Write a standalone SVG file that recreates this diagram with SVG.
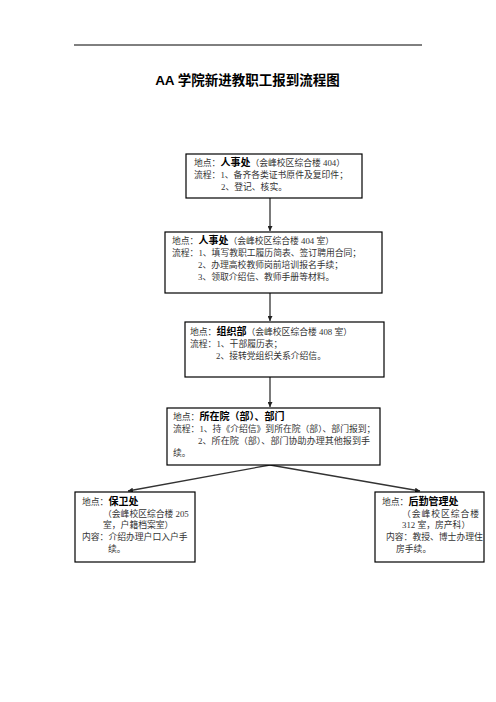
<svg xmlns="http://www.w3.org/2000/svg" width="496" height="702" viewBox="0 0 496 702">
<defs>
<style>
.box{fill:#fff;stroke:#000;stroke-width:1.2}
.t{font-family:"Liberation Serif","Noto Sans CJK SC",serif;font-size:8.8px;fill:#333}
.b{font-family:"Noto Sans CJK SC",sans-serif;font-size:10px;font-weight:bold;fill:#000}
.title{font-family:"Liberation Sans","Noto Sans CJK SC",sans-serif;font-size:13.5px;font-weight:bold;fill:#000}
.c{stroke:#333;stroke-width:1.3;fill:none}
</style>
<marker id="ah" viewBox="0 0 8 8" refX="8" refY="4" markerWidth="5" markerHeight="5" orient="auto" markerUnits="userSpaceOnUse">
<path d="M0,0 L8,4 L0,8 z" fill="#222"/>
</marker>
</defs>
<rect width="496" height="702" fill="#fff"/>
<line x1="74" y1="45" x2="422" y2="45" stroke="#000" stroke-width="1"/>
<text class="title" x="247.5" y="85" text-anchor="middle">AA 学院新进教职工报到流程图</text>

<g id="connectors">
<line class="c" x1="270" y1="198" x2="270" y2="231" marker-end="url(#ah)"/>
<line class="c" x1="270" y1="293" x2="270" y2="321" marker-end="url(#ah)"/>
<line class="c" x1="270" y1="377" x2="270" y2="407" marker-end="url(#ah)"/>
<line class="c" x1="270" y1="465" x2="128" y2="491" marker-end="url(#ah)"/>
<line class="c" x1="270" y1="465" x2="420" y2="491" marker-end="url(#ah)"/>
</g>

<g id="node1">
<rect class="box" x="186" y="154" width="176" height="44"/>
<text class="t" x="194" y="166">地点：<tspan class="b">人事处</tspan>（会峰校区综合楼 404）</text>
<text class="t" x="194" y="178">流程：1、备齐各类证书原件及复印件；</text>
<text class="t" x="221" y="190">2、登记、核实。</text>
</g>

<g id="node2">
<rect class="box" x="165" y="232" width="217" height="61"/>
<text class="t" x="172" y="244">地点：<tspan class="b">人事处</tspan>（会峰校区综合楼 404 室）</text>
<text class="t" x="172" y="256">流程：1、填写教职工履历简表、签订聘用合同；</text>
<text class="t" x="198" y="268">2、办理高校教师岗前培训报名手续；</text>
<text class="t" x="198" y="280">3、领取介绍信、教师手册等材料。</text>
</g>

<g id="node3">
<rect class="box" x="185" y="322" width="199" height="55"/>
<text class="t" x="190" y="335">地点：<tspan class="b">组织部</tspan>（会峰校区综合楼 408 室）</text>
<text class="t" x="190" y="347">流程：1、干部履历表；</text>
<text class="t" x="216" y="359">2、接转党组织关系介绍信。</text>
</g>

<g id="node4">
<rect class="box" x="167" y="408" width="213" height="57"/>
<text class="t" x="173" y="420">地点：<tspan class="b">所在院（部）、部门</tspan></text>
<text class="t" x="173" y="432">流程：1、持《介绍信》到所在院（部）、部门报到；</text>
<text class="t" x="198" y="444" textLength="172" lengthAdjust="spacingAndGlyphs">2、所在院（部）、部门协助办理其他报到手</text>
<text class="t" x="173" y="456">续。</text>
</g>

<g id="node5">
<rect class="box" x="75" y="492" width="120" height="70"/>
<text class="t" x="82" y="505">地点：<tspan class="b">保卫处</tspan></text>
<text class="t" x="103" y="517">（会峰校区综合楼  205</text>
<text class="t" x="103" y="528">室，户籍档案室）</text>
<text class="t" x="82" y="540">内容：介绍办理户口入户手</text>
<text class="t" x="108" y="552">续。</text>
</g>

<g id="node6">
<rect class="box" x="375" y="492" width="109" height="70"/>
<text class="t" x="382" y="505">地点：<tspan class="b">后勤管理处</tspan></text>
<text class="t" x="402" y="517" textLength="77" lengthAdjust="spacing">（会峰校区综合楼</text>
<text class="t" x="402" y="528">312 室，房产科）</text>
<text class="t" x="386" y="540">内容：教授、博士办理住</text>
<text class="t" x="396" y="552">房手续。</text>
</g>
</svg>
